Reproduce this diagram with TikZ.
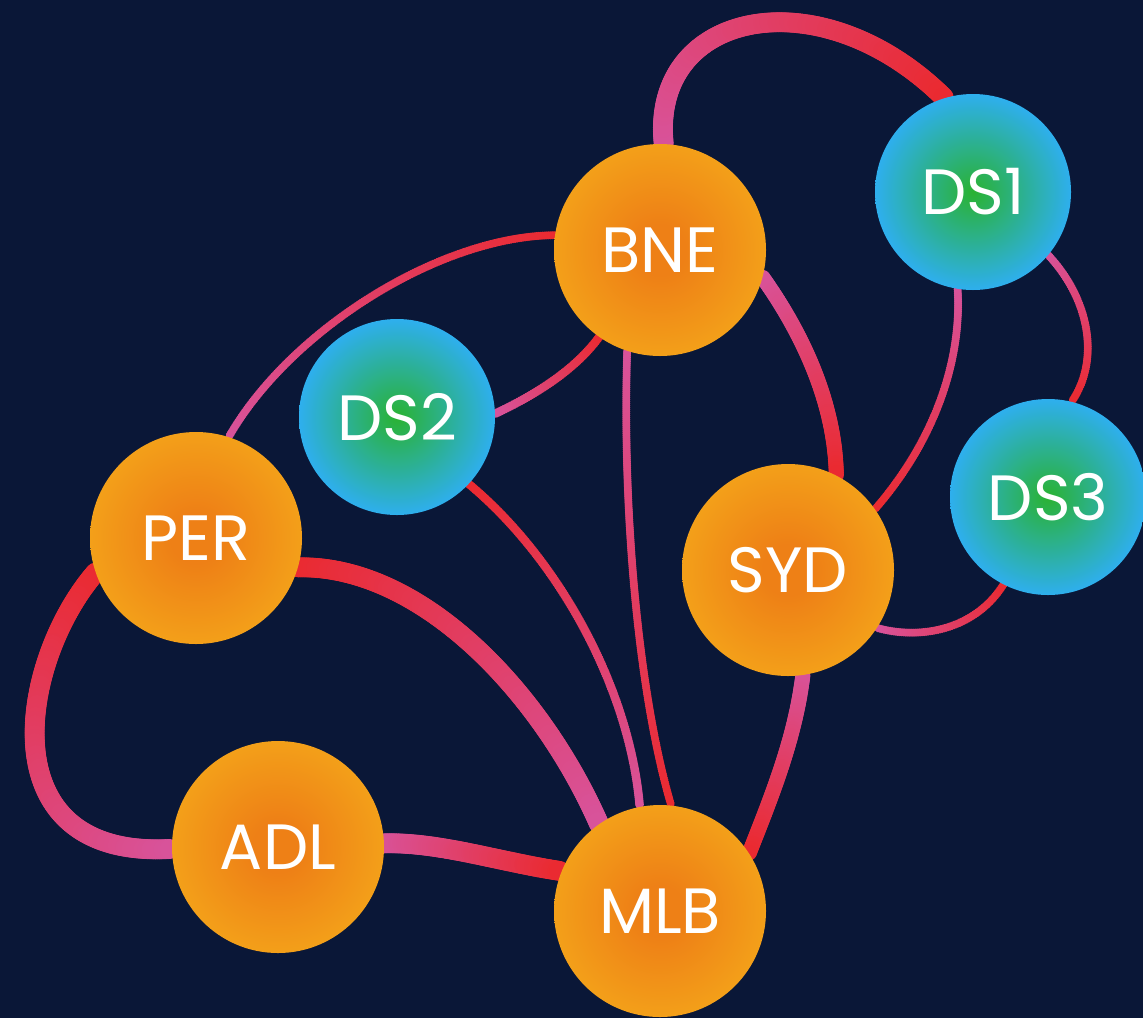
\documentclass[tikz,border=0pt]{standalone}
\usepackage{fontspec}
\setmainfont{Poppins}
\usetikzlibrary{decorations.markings}

\definecolor{navy}{HTML}{0A1737}
\definecolor{wirered}{HTML}{EA2A30}
\definecolor{wirepink}{HTML}{D8539B}
\definecolor{cityin}{HTML}{EE8016}
\definecolor{cityout}{HTML}{F6B01B}
\definecolor{storein}{HTML}{2AB232}
\definecolor{storeout}{HTML}{2EAFEE}

\pgfdeclareradialshading{cityglow}{\pgfpoint{0bp}{0bp}}{color(0bp)=(cityin); color(6bp)=(cityin); color(35bp)=(cityout); color(50bp)=(cityout)}
\pgfdeclareradialshading{storeglow}{\pgfpoint{0bp}{0bp}}{color(0bp)=(storein); color(25bp)=(storeout); color(50bp)=(storeout)}

\pgfdeclarelayer{sky}
\pgfdeclarelayer{wires}
\pgfsetlayers{sky,wires,main}

\tikzset{
  city/.style={circle, minimum size=106pt, inner sep=0pt, shade, shading=cityglow,
    text=white, font=\fontsize{32}{32}\selectfont},
  store/.style={city, minimum size=98pt, shading=storeglow},
  wire/.style n args={3}{postaction={decorate, decoration={markings,
    mark=between positions 0 and 1 step 1pt with {%
      \pgfmathtruncatemacro\mix{\pgfkeysvalueof{/pgf/decoration/mark info/distance from start}/\pgfdecoratedpathlength*100}%
      \fill[#2!\mix!#1] (0,0) circle (#3);}}}},
}

\begin{document}
\begin{tikzpicture}[x=0.5pt, y=-0.5pt]
  \useasboundingbox (0,0) rectangle (1143,1018);
  \begin{pgfonlayer}{sky}
    \fill[navy] (0,0) rectangle (1143,1018); % backdrop
  \end{pgfonlayer}

  \node[city] (bne) at (660,250) {BNE};
  \node[city] (per) at (196,538) {PER};
  \node[city] (syd) at (788,570) {SYD};
  \node[city] (adl) at (278,847) {ADL};
  \node[city] (mlb) at (660,911) {MLB};
  \node[store] (ds1) at (973,192) {DS1};
  \node[store] (ds2) at (397,417) {DS2};
  \node[store] (ds3) at (1048,497) {DS3};

  \begin{pgfonlayer}{wires}
    \path[wire={wirepink}{wirered}{5pt}] (bne.88) .. controls (650,10) and (820,-25) .. (ds1.107); % over the top
    \path[wire={wirered}{wirepink}{2pt}] (bne.172) .. controls (440,236) and (290,330) .. (per.72);
    \path[wire={wirered}{wirepink}{2.2pt}] (bne.235) .. controls (575,370) and (535,395) .. (ds2.2);
    \path[wire={wirepink}{wirered}{2pt}] (bne.252) .. controls (622,520) and (640,700) .. (mlb.84);
    \path[wire={wirepink}{wirered}{3.8pt}] (bne.345) .. controls (800,330) and (835,400) .. (syd.63);
    \path[wire={wirepink}{wirered}{2pt}] (ds1.261) .. controls (962,360) and (935,440) .. (syd.35);
    \path[wire={wirepink}{wirered}{2pt}] (ds1.320) .. controls (1090,300) and (1100,360) .. (ds3.76);
    \path[wire={wirered}{wirepink}{2pt}] (ds3.243) .. controls (975,630) and (920,640) .. (syd.327);
    \path[wire={wirered}{wirepink}{2.2pt}] (ds2.317) .. controls (560,560) and (630,690) .. (mlb.101);
    \path[wire={wirered}{wirepink}{5pt}] (per.344) .. controls (420,565) and (540,690) .. (mlb.125);
    \path[wire={wirered}{wirepink}{5pt}] (per.199) .. controls (20,660) and (-15,860) .. (adl.181); % loop on the left
    \path[wire={wirepink}{wirered}{5pt}] (adl.2) .. controls (440,842) and (500,862) .. (mlb.158);
    \path[wire={wirepink}{wirered}{3.8pt}] (syd.278) .. controls (795,740) and (770,800) .. (mlb.33);
  \end{pgfonlayer}
\end{tikzpicture}
\end{document}
